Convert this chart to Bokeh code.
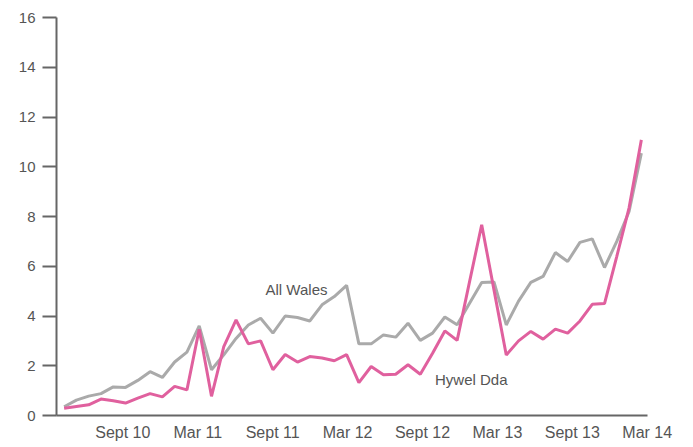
from bokeh.plotting import figure
from bokeh.models import FixedTicker, Label, Range1d
from bokeh.embed import file_html
from bokeh.resources import INLINE

# Data (monthly points, index 0..47)
all_wales = [0.35, 0.62, 0.78, 0.88, 1.15, 1.13, 1.41, 1.76, 1.53, 2.15, 2.55, 3.6,
             1.84, 2.44, 3.1, 3.64, 3.91, 3.31, 4.0, 3.94, 3.8, 4.45, 4.78, 5.23,
             2.88, 2.88, 3.24, 3.15, 3.71, 3.02, 3.31, 3.96, 3.65, 4.5, 5.35, 5.37,
             3.64, 4.6, 5.35, 5.59, 6.55, 6.19, 6.96, 7.1, 5.95, 7.0, 8.2, 10.55]
hywel_dda = [0.29, 0.36, 0.43, 0.66, 0.59, 0.5, 0.7, 0.88, 0.75, 1.17, 1.03, 3.47,
             0.77, 2.77, 3.84, 2.88, 3.0, 1.84, 2.45, 2.15, 2.37, 2.31, 2.2, 2.45,
             1.32, 1.97, 1.64, 1.66, 2.04, 1.66, 2.5, 3.4, 3.02, 5.35, 7.67, 5.05,
             2.43, 3.0, 3.38, 3.07, 3.47, 3.31, 3.8, 4.47, 4.5, 6.4, 8.35, 11.08]
months = list(range(len(all_wales)))
tick_labels = ["Sept 10", "Mar 11", "Sept 11", "Mar 12", "Sept 12", "Mar 13", "Sept 13", "Mar 14"]
y_ticks = [0, 2, 4, 6, 8, 10, 12, 14, 16]

TEXT = "#555555"
AXIS = "#666666"
FONT = "Liberation Sans"

p = figure(width=685, height=443, output_backend="svg", toolbar_location=None,
           x_range=Range1d(-0.62, 47.5), y_range=Range1d(0, 16),
           min_border_left=56, min_border_right=38, min_border_top=17, min_border_bottom=28)
p.outline_line_color = None
p.xgrid.visible = False
p.ygrid.visible = False
p.background_fill_color = "white"
p.border_fill_color = "white"

p.line(months, all_wales, line_color="#aaaaaa", line_width=3)
p.line(months, hywel_dda, line_color="#e0609e", line_width=3)

tick_pos = [round(4.78 + 6.1 * k, 3) for k in range(len(tick_labels))]
p.xaxis.ticker = FixedTicker(ticks=tick_pos)
p.xaxis.major_label_overrides = {t: lab for t, lab in zip(tick_pos, tick_labels)}
p.xaxis.major_tick_out = 0
p.xaxis.major_tick_in = 0
p.xaxis.minor_tick_out = 0
p.xaxis.minor_tick_in = 0
p.xaxis.axis_line_color = AXIS
p.xaxis.axis_line_width = 2
p.xaxis.major_label_text_font = FONT
p.xaxis.major_label_text_font_size = "16px"
p.xaxis.major_label_text_color = TEXT
p.xaxis.major_label_standoff = 8

p.yaxis.ticker = FixedTicker(ticks=y_ticks)
p.yaxis.major_tick_out = 14
p.yaxis.major_tick_in = 0
p.yaxis.minor_tick_out = 0
p.yaxis.minor_tick_in = 0
p.yaxis.major_tick_line_color = AXIS
p.yaxis.major_tick_line_width = 2
p.yaxis.axis_line_color = AXIS
p.yaxis.axis_line_width = 2
p.yaxis.major_label_text_font = FONT
p.yaxis.major_label_text_font_size = "15px"
p.yaxis.major_label_text_color = TEXT
p.yaxis.major_label_standoff = 7

p.add_layout(Label(x=16.4, y=5.07, text="All Wales", text_font=FONT, text_font_size="15px",
                   text_color=TEXT, text_baseline="alphabetic"))
p.add_layout(Label(x=30.2, y=1.455, text="Hywel Dda", text_font=FONT, text_font_size="15px",
                   text_color=TEXT, text_baseline="alphabetic"))

open("out.html", "w").write(file_html(p, INLINE))
